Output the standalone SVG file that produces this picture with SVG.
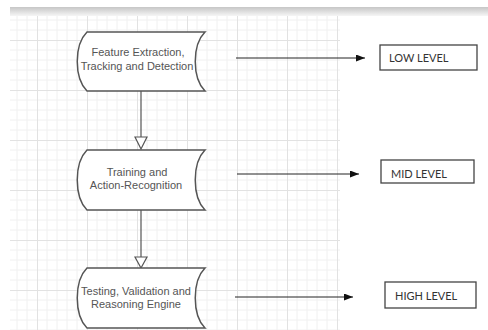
<svg xmlns="http://www.w3.org/2000/svg" width="488" height="330" viewBox="0 0 488 330">
<style>
.proc{fill:#ffffff;stroke:#555555;stroke-width:1.5}
.ptxt{font-family:"Liberation Sans",Arial,sans-serif;font-size:11px;fill:#555555;text-anchor:middle}
.lbox{fill:#ffffff;stroke:#444444;stroke-width:1.3}
.ltxt{font-family:Lato,"Open Sans",sans-serif;font-size:11px;fill:#333333}
.flow{stroke:#555555;stroke-width:1.2;fill:none}
.tri{fill:#ffffff;stroke:#555555;stroke-width:1.2}
.arr{stroke:#222222;stroke-width:1;fill:none;marker-end:url(#ah)}
</style>
<defs>
<linearGradient id="band" x1="0" y1="0" x2="0" y2="1">
<stop offset="0" stop-color="#c6c6c6"/>
<stop offset="1" stop-color="#f6f6f6"/>
</linearGradient>
<pattern id="grid" patternUnits="userSpaceOnUse" x="37" y="40" width="50" height="50">
<path d="M10 0V50M20 0V50M30 0V50M40 0V50M0 10H50M0 20H50M0 30H50M0 40H50" stroke="#f0f0f0" stroke-width="1" fill="none"/>
<path d="M0.5 0V50M0 0.5H50" stroke="#e2e2e2" stroke-width="1" fill="none"/>
</pattern>
<marker id="ah" markerWidth="9" markerHeight="7" refX="9" refY="3.5" orient="auto" markerUnits="userSpaceOnUse">
<path d="M0 0L9 3.5L0 7Z" fill="#111111"/>
</marker>
</defs>
<rect width="488" height="330" fill="#ffffff"/>
<rect x="10" y="15" width="330" height="315" fill="url(#grid)"/>
<rect x="10" y="7" width="478" height="9" fill="url(#band)"/>

<g id="connectors">
<line class="flow" x1="141" y1="91" x2="141" y2="137"/>
<path class="tri" d="M135 137H147L141 149Z"/>
<line class="flow" x1="141" y1="210" x2="141" y2="257"/>
<path class="tri" d="M135 257H147L141 268Z"/>
<line class="arr" x1="236" y1="58" x2="365" y2="58"/>
<line class="arr" x1="237" y1="174" x2="359" y2="174"/>
<line class="arr" x1="235" y1="297" x2="353" y2="297"/>
</g>

<g id="node-feature">
<path class="proc" d="M87 32H205C192 45 192 78 205 91H87C74 78 74 45 87 32Z"/>
<text class="ptxt" x="138" y="56">Feature Extraction,</text>
<text class="ptxt" x="137" y="70">Tracking and Detection</text>
</g>

<g id="node-training">
<path class="proc" d="M87 150H205C192 163 192 197 205 210H87C74 197 74 163 87 150Z"/>
<text class="ptxt" x="137" y="176">Training and</text>
<text class="ptxt" x="136" y="189">Action-Recognition</text>
</g>

<g id="node-testing">
<path class="proc" d="M87 268H205C192 281 192 315 205 328H87C74 315 74 281 87 268Z"/>
<text class="ptxt" x="136" y="295">Testing, Validation and</text>
<text class="ptxt" x="136" y="308">Reasoning Engine</text>
</g>

<g id="label-low">
<rect class="lbox" x="380" y="45" width="97" height="25"/>
<text class="ltxt" x="389" y="62">LOW LEVEL</text>
</g>

<g id="label-mid">
<rect class="lbox" x="381" y="160" width="93" height="23"/>
<text class="ltxt" x="391" y="178">MID LEVEL</text>
</g>

<g id="label-high">
<rect class="lbox" x="385" y="282" width="91" height="26"/>
<text class="ltxt" x="395" y="300">HIGH LEVEL</text>
</g>
</svg>
